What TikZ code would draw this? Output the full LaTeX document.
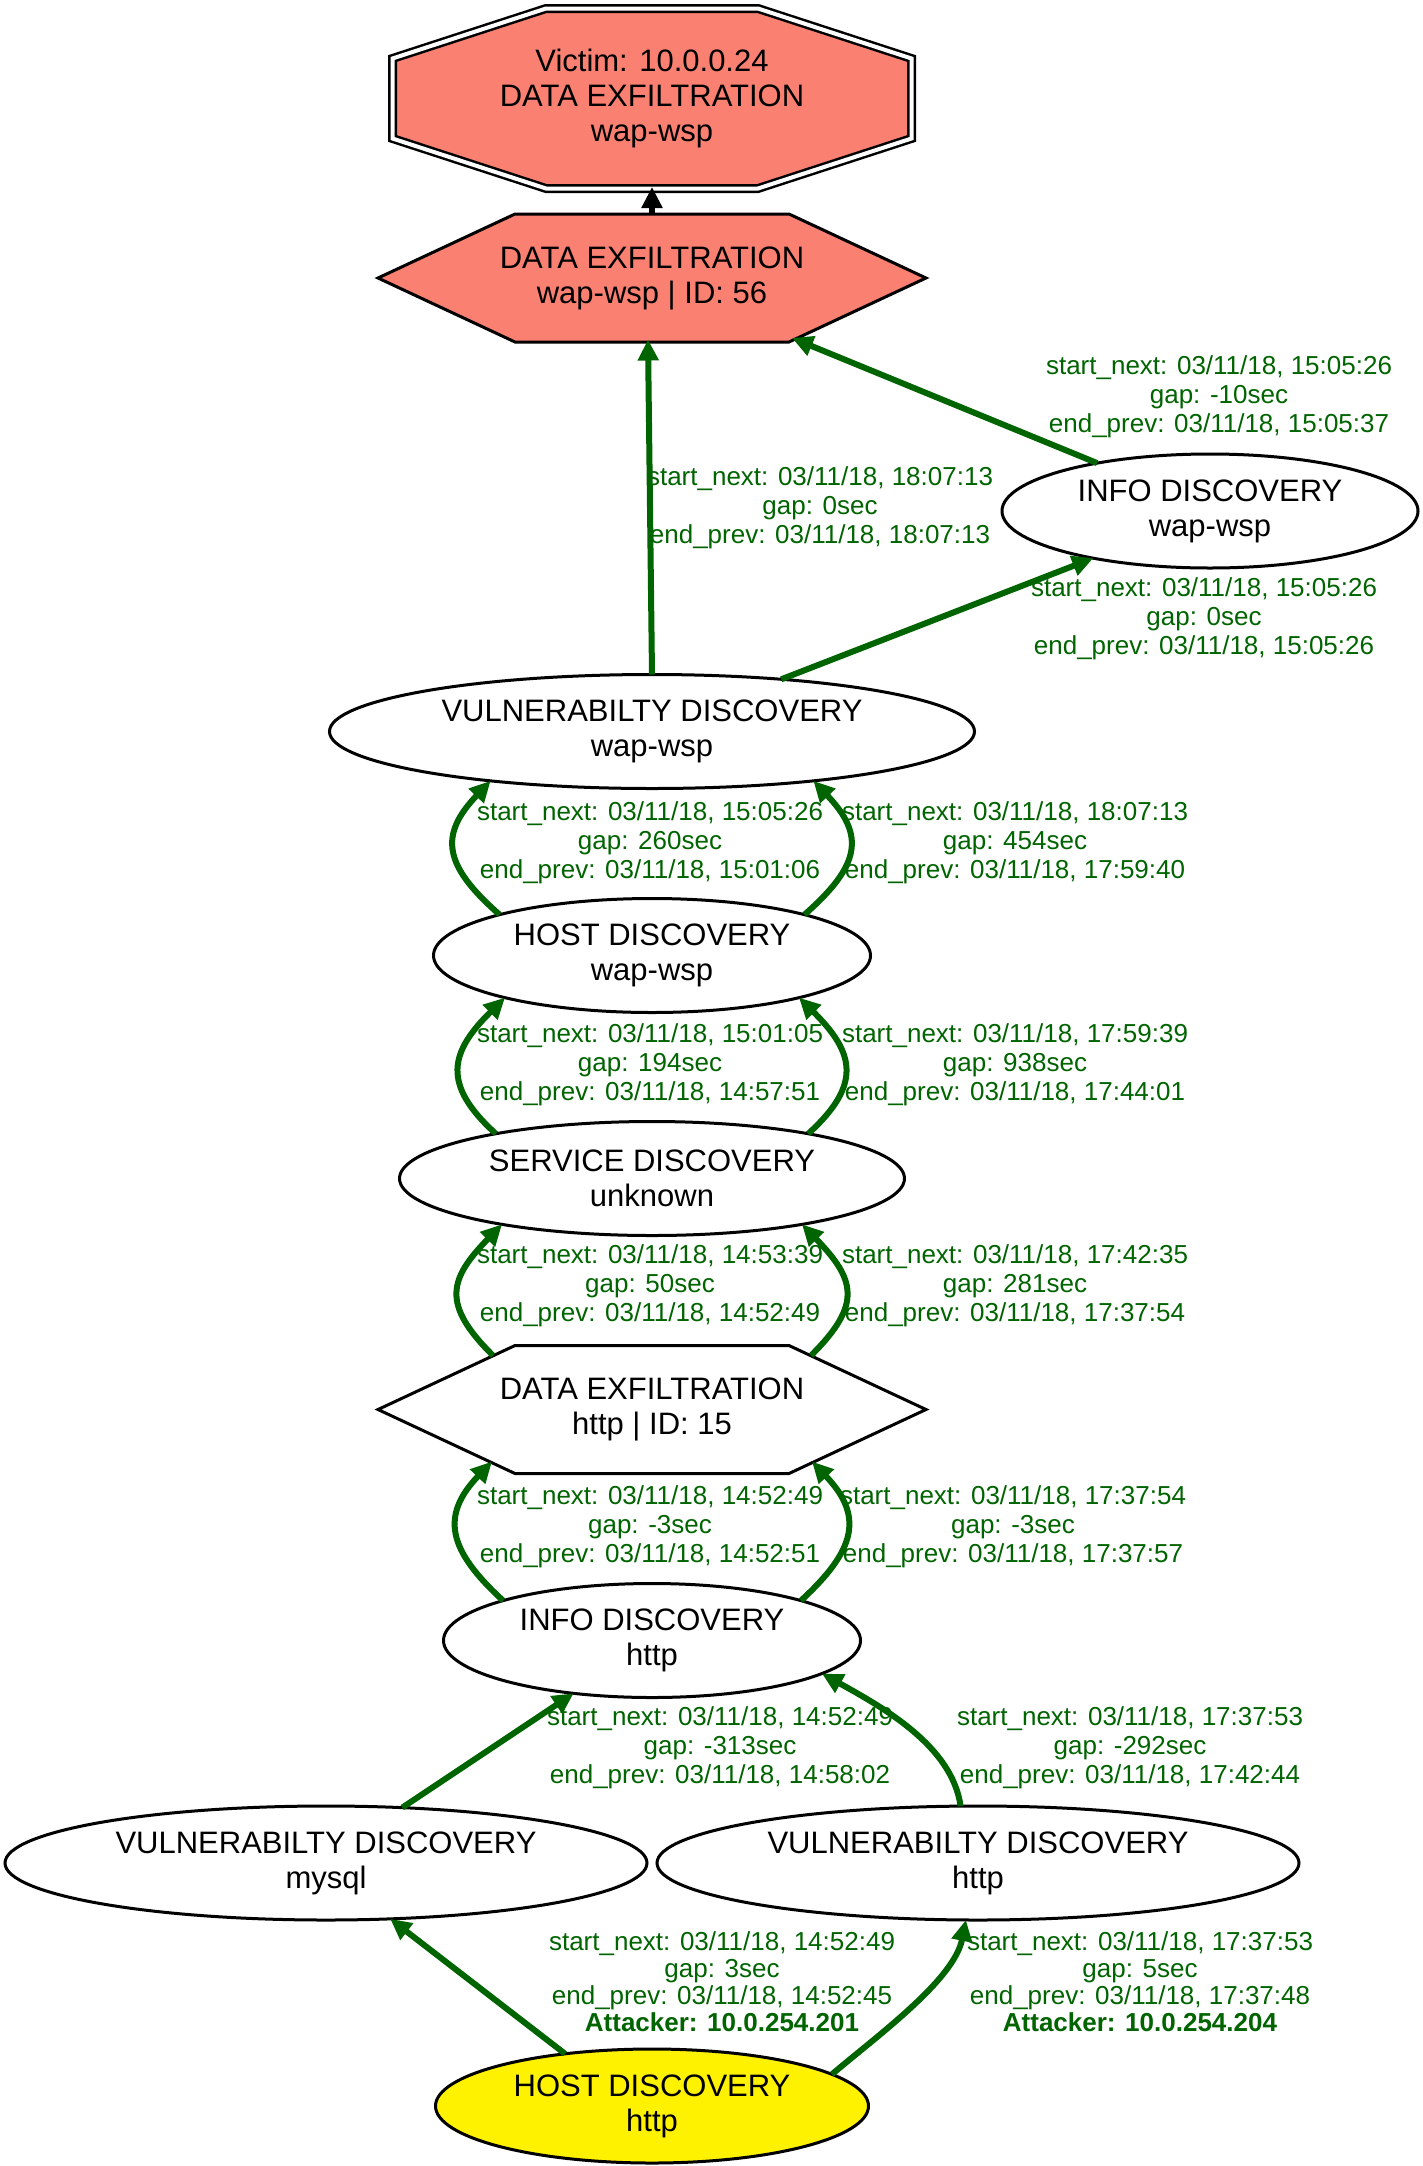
\documentclass[tikz,border=0pt]{standalone}
\usepackage{fontspec}
\setmainfont{Liberation Sans}
\usetikzlibrary{shapes.geometric,arrows.meta,calc}
\definecolor{salmon}{RGB}{250,128,114}
\definecolor{dkgreen}{RGB}{0,100,0}

\begin{document}
\begin{tikzpicture}[x=1pt,y=1pt,yscale=-1,xscale=1,
	evt/.style={ellipse,draw,line width=3pt,fill=white,inner sep=0pt,outer sep=0pt,minimum height=114pt,align=center,font=\fontsize{31}{35}\selectfont},
	exfil/.style={rectangle,inner sep=0pt,outer sep=0pt,minimum width=551pt,minimum height=131pt,align=center,font=\fontsize{31}{35}\selectfont},
	hexline/.style={draw,line width=3pt,line join=miter},
	link/.style={draw=dkgreen,line width=6pt,-{Triangle[length=21pt,width=20pt]}},
	tag/.style={text=dkgreen,align=center,inner sep=0pt,font=\fontsize{26}{29}\selectfont}]
				\path[use as bounding box,fill=white] (0,0) rectangle (1423,2166);
				
				%Shape: Octagon (double)
				\coordinate (pv) at (652,98.5);
				\draw[fill=salmon,line width=2.5pt,double=white,double distance=4pt] (pv) ++(-106,-90) -- ++(212,0) -- ++(153.5,50) -- ++(0,80) -- ++(-153.5,50) -- ++(-212,0) -- ++(-153.5,-50) -- ++(0,-80) -- cycle ;
				%Shape: Hexagon
				\coordinate (p56) at (652,278);
				\draw[hexline,fill=salmon] (p56) ++(-274,0) -- ++(137,-64) -- ++(274,0) -- ++(137,64) -- ++(-137,64) -- ++(-274,0) -- cycle ;
				%Shape: Hexagon
				\coordinate (p15) at (652,1409.5);
				\draw[hexline,fill=white] (p15) ++(-274,0) -- ++(137,-64) -- ++(274,0) -- ++(137,64) -- ++(-137,64) -- ++(-274,0) -- cycle ;
				
				% Nodes
				\node[exfil,minimum width=527pt,minimum height=187pt] (victim) at (pv) {Victim: 10.0.0.24\\DATA EXFILTRATION\\wap-wsp};
				\node[exfil] (exf56) at (p56) {DATA EXFILTRATION\\wap-wsp | ID: 56};
				\node[exfil] (exf15) at (p15) {DATA EXFILTRATION\\http | ID: 15};
				\node[evt,minimum width=416pt] (info1) at (1210,511) {INFO DISCOVERY\\wap-wsp};
				\node[evt,minimum width=645pt] (vuln1) at (652,731.5) {VULNERABILTY DISCOVERY\\wap-wsp};
				\node[evt,minimum width=437pt] (host1) at (652,955.5) {HOST DISCOVERY\\wap-wsp};
				\node[evt,minimum width=505pt] (serv) at (652,1178.5) {SERVICE DISCOVERY\\unknown};
				\node[evt,minimum width=417pt] (info2) at (652,1640.5) {INFO DISCOVERY\\http};
				\node[evt,minimum width=642pt] (vuln2) at (326,1863) {VULNERABILTY DISCOVERY\\mysql};
				\node[evt,minimum width=642pt] (vuln3) at (978,1863) {VULNERABILTY DISCOVERY\\http};
				\node[evt,minimum width=433pt,fill=yellow] (host2) at (652,2106) {HOST DISCOVERY\\http};
				
				%Straight Lines
				\draw[link,draw=black] (exf56.north) -- ($(victim.south)+(0,-5)$) ;
				%Straight Lines
				\draw[link] (vuln1.north) -- ($(exf56.south)+(-4,-4)$) ;
				%Straight Lines
				\draw[link] (info1.157) -- ($(exf56.center)+(140,60)$) ;
				%Straight Lines
				\draw[link] (vuln1.22) -- (info1.202) ;
				%Curve Lines
				\draw[link] (host1.165) .. controls (443,865) and (439,835) .. (vuln1.197) ;
				\draw[link] (host1.15) .. controls (861,865) and (865,835) .. (vuln1.-17) ;
				%Curve Lines
				\draw[link] (serv.164) .. controls (441,1084) and (450,1052) .. (host1.196) ;
				\draw[link] (serv.16) .. controls (863,1084) and (854,1052) .. (host1.-16) ;
				%Curve Lines
				\draw[link] ($(exf15.center)+(-159,-54)$) .. controls (441,1304) and (449,1279) .. (serv.197) ;
				\draw[link] ($(exf15.center)+(159,-54)$) .. controls (863,1304) and (855,1279) .. (serv.-17) ;
				%Curve Lines
				\draw[link] (info2.165) .. controls (448,1550) and (440,1516) .. ($(exf15.center)+(-160,52)$) ;
				\draw[link] (info2.15) .. controls (856,1550) and (864,1516) .. ($(exf15.center)+(160,52)$) ;
				%Straight Lines
				\draw[link] (vuln2.36) -- (info2.214) ;
				%Curve Lines
				\draw[link] (vuln3.107) .. controls (952,1746) and (884,1708) .. (info2.-11) ;
				%Straight Lines
				\draw[link] (host2.149) -- (vuln2.-41) ;
				%Curve Lines
				\draw[link] (host2.10) .. controls (877,2036) and (954,1980) .. (vuln3.258) ;
				
				% Text Node
				\node[tag] (t1) at (820,508) {start\_next: 03/11/18, 18:07:13\\gap: 0sec\\end\_prev: 03/11/18, 18:07:13};
				% Text Node
				\node[tag] (t2) at (1219,397) {start\_next: 03/11/18, 15:05:26\\gap: -10sec\\end\_prev: 03/11/18, 15:05:37};
				% Text Node
				\node[tag] (t3) at (1204,619) {start\_next: 03/11/18, 15:05:26\\gap: 0sec\\end\_prev: 03/11/18, 15:05:26};
				% Text Node
				\node[tag] (t4) at (650,843) {start\_next: 03/11/18, 15:05:26\\gap: 260sec\\end\_prev: 03/11/18, 15:01:06};
				% Text Node
				\node[tag] (t5) at (1015,843) {start\_next: 03/11/18, 18:07:13\\gap: 454sec\\end\_prev: 03/11/18, 17:59:40};
				% Text Node
				\node[tag] (t6) at (650,1065) {start\_next: 03/11/18, 15:01:05\\gap: 194sec\\end\_prev: 03/11/18, 14:57:51};
				% Text Node
				\node[tag] (t7) at (1015,1065) {start\_next: 03/11/18, 17:59:39\\gap: 938sec\\end\_prev: 03/11/18, 17:44:01};
				% Text Node
				\node[tag] (t8) at (650,1286) {start\_next: 03/11/18, 14:53:39\\gap: 50sec\\end\_prev: 03/11/18, 14:52:49};
				% Text Node
				\node[tag] (t9) at (1015,1286) {start\_next: 03/11/18, 17:42:35\\gap: 281sec\\end\_prev: 03/11/18, 17:37:54};
				% Text Node
				\node[tag] (t10) at (650,1527) {start\_next: 03/11/18, 14:52:49\\gap: -3sec\\end\_prev: 03/11/18, 14:52:51};
				% Text Node
				\node[tag] (t11) at (1013,1527) {start\_next: 03/11/18, 17:37:54\\gap: -3sec\\end\_prev: 03/11/18, 17:37:57};
				% Text Node
				\node[tag] (t12) at (720,1748) {start\_next: 03/11/18, 14:52:49\\gap: -313sec\\end\_prev: 03/11/18, 14:58:02};
				% Text Node
				\node[tag] (t13) at (1130,1748) {start\_next: 03/11/18, 17:37:53\\gap: -292sec\\end\_prev: 03/11/18, 17:42:44};
				% Text Node
				\node[tag,font=\fontsize{26}{27}\selectfont] (t14) at (722,1982) {start\_next: 03/11/18, 14:52:49\\gap: 3sec\\end\_prev: 03/11/18, 14:52:45\\\textbf{Attacker: 10.0.254.201}};
				% Text Node
				\node[tag,font=\fontsize{26}{27}\selectfont] (t15) at (1140,1982) {start\_next: 03/11/18, 17:37:53\\gap: 5sec\\end\_prev: 03/11/18, 17:37:48\\\textbf{Attacker: 10.0.254.204}};
				
\end{tikzpicture}
\end{document}
